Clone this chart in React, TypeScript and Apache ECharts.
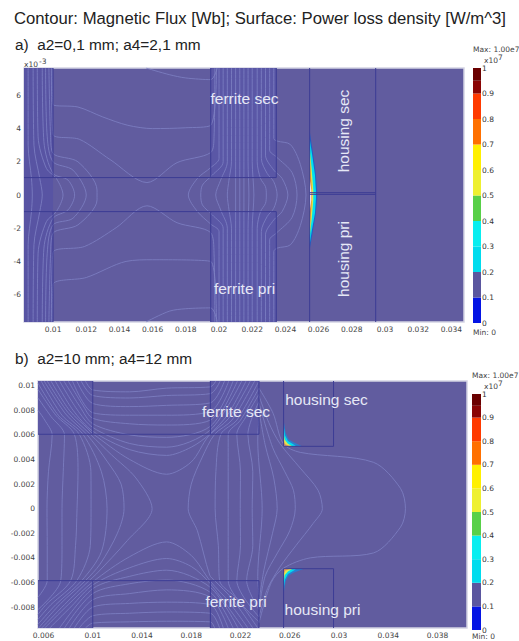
import React, { useEffect, useRef } from "react";
import * as echarts from "echarts";

type P = [number, number];
// Contour and region coordinates are in mm; x axis is in metres.
// Panel a's y axis is in units of 1e-3 m, panel b's y axis is in metres.
const ticksAX = [0.01, 0.012, 0.014, 0.016, 0.018, 0.02, 0.022, 0.024, 0.026, 0.028, 0.03, 0.032, 0.034];
const ticksAY = [-6, -4, -2, 0, 2, 4, 6];
const ticksBX = [0.006, 0.01, 0.014, 0.018, 0.022, 0.026, 0.03, 0.034, 0.038];
const ticksBY = [-0.008, -0.006, -0.004, -0.002, 0, 0.002, 0.004, 0.006, 0.008, 0.01];
const barTicks = [0, 0.1, 0.2, 0.3, 0.4, 0.5, 0.6, 0.7, 0.8, 0.9, 1];
const bandSizes = [0.1, 0.1, 0.1, 0.1, 0.1, 0.1, 0.1, 0.1, 0.1, 0.05, 0.05];
const bandColors = ["#0414e4", "#5a569f", "#00dcee", "#08eef0", "#58d048", "#eef030", "#fff000", "#ff7000", "#ff3a00", "#8a0404", "#6a0000"];

const contoursA: P[][] = [
  [[8.5,7.65],[8.5,3],[8.7,1],[8.75,0],[8.7,-1],[8.5,-3],[8.5,-7.65]],
  [[8.8,7.65],[8.85,3],[9.2,1],[9.35,0],[9.2,-1],[8.85,-3],[8.8,-7.65]],
  [[9.05,7.65],[9.1,3.5],[9.6,1.6],[10.2,1],[10.6,0],[10.2,-1],[9.6,-1.6],[9.1,-3.5],[9.05,-7.65]],
  [[9.35,7.65],[9.45,3.2],[10,1.3],[10.9,0.9],[11.3,0],[10.9,-0.9],[10,-1.4],[9.45,-3.2],[9.35,-7.65]],
  [[9.55,7.65],[9.65,3.5],[10,2],[11.2,1.5],[12,0],[11.2,-1.4],[10,-1.8],[9.65,-3.5],[9.55,-7.65]],
  [[9.75,7.65],[9.85,3.6],[10,2.5],[11.5,2],[12.65,0.3],[12.65,-0.3],[11.5,-1.8],[10,-2.3],[9.85,-3.6],[9.75,-7.65]],
  [[9.9,7.65],[10,3.65],[11.6,3.35],[13.43,2.14],[15.66,0.75],[17.47,1.95],[19.49,2.55],[19.7,3.5],[19.75,7.65]],
  [[9.95,7.65],[10,5.45],[11.5,5.3],[13,4.7],[14.5,4.2],[16,4],[18,4.05],[19.5,4.2],[19.85,7.65]],
  [[15.6,7.65],[17,7.25],[18,7.05],[19.5,6.95],[19.9,7.65]],
  [[9.9,-7.65],[10,-3.47],[11.9,-3.1],[13.8,-1.97],[15.66,-0.65],[17.47,-1.67],[19.49,-2.26],[19.7,-3.5],[19.75,-7.65]],
  [[9.95,-7.65],[10,-5.4],[12,-4.97],[14.4,-4],[16,-3.9],[19.5,-4],[19.85,-7.65]],
  [[15.6,-7.65],[17,-7],[18,-6.85],[19.5,-6.8],[19.9,-7.65]],
  [[20,7.65],[20,2.2],[19.5,1.65],[18.7,1],[18.15,0],[18.7,-1],[19.5,-1.75],[20,-2.2],[20,-7.65]],
  [[20.25,7.65],[20.25,2],[19.6,1.2],[19,0.6],[18.9,0],[19,-0.6],[19.6,-1.2],[20.25,-2],[20.25,-7.65]],
  [[20.5,7.65],[20.5,2],[20.1,0.9],[19.8,0],[20.1,-0.9],[20.5,-2],[20.5,-7.65]],
  [[20.75,7.65],[20.75,2],[20.6,0.9],[20.5,0],[20.6,-0.9],[20.75,-2],[20.75,-7.65]],
  [[21,7.65],[21,2],[21,0],[21,-2],[21,-7.65]],
  [[21.25,7.65],[21.25,2],[21.25,0],[21.25,-2],[21.25,-7.65]],
  [[21.5,7.65],[21.5,2],[21.5,0],[21.5,-2],[21.5,-7.65]],
  [[21.75,7.65],[21.75,2],[21.8,0],[21.75,-2],[21.75,-7.65]],
  [[22,7.65],[22,2],[22.1,0],[22,-2],[22,-7.65]],
  [[22.3,7.65],[22.3,2],[22.5,1],[22.8,0.5],[22.85,0],[22.8,-0.5],[22.5,-1],[22.3,-2],[22.3,-7.65]],
  [[22.55,7.65],[22.55,2.2],[22.9,1.3],[23.3,0.8],[23.5,0],[23.3,-0.8],[22.9,-1.3],[22.55,-2.2],[22.55,-7.65]],
  [[22.8,7.65],[22.8,2.4],[23.3,1.5],[23.8,1],[24.15,0],[23.8,-1],[23.3,-1.5],[22.8,-2.4],[22.8,-7.65]],
  [[23.05,7.65],[23.05,2.7],[23.45,2.3],[24.4,1.35],[24.7,0],[24.4,-1.35],[23.45,-2.3],[23.05,-2.7],[23.05,-7.65]],
  [[23.3,7.65],[23.3,3.4],[23.5,3.25],[24.3,3.04],[24.9,1.84],[25.24,0],[24.9,-1.84],[24.3,-3],[23.5,-3.2],[23.3,-3.4],[23.3,-7.65]],
];

const contoursB: P[][] = [
  [[9.4,10.38],[10,9.65],[13,9.5],[16,9.8],[19.55,9.9],[20,10.38]],
  [[9.05,10.38],[10,9.2],[13,9],[16,9.2],[19.55,9.35],[20.35,10.38]],
  [[8.7,10.38],[10,8.55],[13,8.3],[16,8.4],[19.55,8.6],[20.7,10.38]],
  [[8.35,10.38],[10,7.8],[13,7.6],[16,7.6],[19.55,7.9],[21.05,10.38]],
  [[8,10.38],[9.2,8.4],[10,7.35],[13,6.9],[16,6.8],[19.55,7.2],[21.4,10.38]],
  [[7.65,10.38],[8.95,8.3],[10,6.9],[13,6],[16,5.8],[19.55,6.7],[21.75,10.38]],
  [[7.3,10.38],[8.7,8.1],[10,6.6],[13,5.3],[16,5],[19.55,6.4],[22.1,10.38]],
  [[6.95,10.38],[8.4,8],[10,6.3],[13,4.8],[16,4.33],[18,5],[19.55,6.1],[21,7.7],[22.45,10.38]],
  [[6.6,10.38],[8.1,8],[9.6,6.5],[10,6.1],[13,4],[16,2.8],[18,3.8],[19.4,5.9],[21,7.3],[22.8,10.38]],
  [[6.1,-9.7],[8,-7.8],[10,-5.95],[13,-3.9],[16,-2.7],[18,-3.8],[19.55,-5.9],[21,-7.5],[22.6,-9.7]],
  [[6.5,-9.7],[8.3,-7.9],[10,-6.2],[13,-4.8],[16,-4.05],[18,-4.7],[19.55,-6.1],[22.2,-9.7]],
  [[7.3,-9.7],[10,-6.5],[13,-5.5],[16,-5],[19.55,-6.4],[21.8,-9.7]],
  [[7.7,-9.7],[10,-6.9],[13,-6.1],[16,-5.8],[19.55,-6.8],[21.4,-9.7]],
  [[8.1,-9.7],[10,-7.4],[13,-6.9],[16,-6.6],[19.55,-7.2],[21,-9.7]],
  [[8.5,-9.7],[10,-8],[13,-7.7],[16,-7.6],[19.55,-7.8],[20.6,-9.7]],
  [[8.9,-9.7],[10,-8.7],[13,-8.5],[16,-8.4],[19.55,-8.5],[20.3,-9.7]],
  [[9.4,-9.7],[10,-9.3],[13,-9.2],[16,-9.15],[19.55,-9.2],[19.9,-9.7]],
  [[5.55,8],[6.1,7.2],[6.7,6],[6.4,3],[6.28,0],[6.3,-3],[6.3,-5.85],[5.55,-7.2]],
  [[5.55,9],[6.6,7.5],[7.7,6],[7.6,3],[7.5,0],[7.5,-3],[7.4,-5.85],[5.55,-8.2]],
  [[5.55,9.7],[7,7.6],[8.5,6.05],[8.8,3],[8.72,0],[8.6,-3],[8.2,-5.85],[6.2,-7.8],[5.55,-8.6]],
  [[5.55,10.2],[7.2,7.6],[8.9,6.05],[9.85,3],[9.86,0],[9.8,-3],[8.7,-5.85],[6.6,-7.8],[5.55,-9]],
  [[5.8,10.38],[7.5,7.6],[9.2,6.05],[10.7,3],[11.16,0],[10.7,-3.5],[9.1,-5.85],[7,-7.8],[5.55,-9.4]],
  [[6.05,10.38],[7.8,7.7],[9.5,6.05],[11.2,3.8],[12.3,2],[12.54,0],[12,-2],[10.6,-4.5],[9.4,-5.85],[7.4,-7.7],[5.6,-9.7]],
  [[6.3,10.38],[8,7.8],[9.8,6.05],[11.5,4.4],[13.5,2.5],[14.82,0],[12.8,-2.6],[10.3,-5.3],[9.7,-5.85],[7.7,-7.8],[5.85,-9.7]],
  [[23.15,10.38],[21.3,7.2],[19.9,6.05],[18.9,4.2],[18,2],[17.75,0],[18.5,-1.8],[19.5,-5.4],[19.9,-5.85],[21.3,-7.3],[23,-9.7]],
  [[23.5,10.38],[21.7,7.2],[20.4,6.05],[20,3],[19.94,0],[20.2,-3],[20.3,-5.85],[21.7,-7.3],[23.4,-9.7]],
  [[23.5,9.8],[22,7.2],[21,6.05],[21,3],[21,0],[21,-3],[21,-5.85],[23.5,-9.2]],
  [[23.5,9.3],[22.4,7.4],[21.7,6.05],[22,3],[21.98,0],[22,-3],[21.7,-5.85],[23.5,-8.8]],
  [[23.5,8.7],[22.6,6.05],[23,3],[22.95,0],[23,-3],[22.5,-5.85],[23.5,-8.2]],
  [[23.5,7.4],[23.4,5.5],[23.76,0],[23.4,-5.5],[23.5,-7]],
  [[23.5,8],[24,5.2],[24.7,2.5],[24.98,0],[24.6,-2],[23.9,-5],[23.5,-7.6]],
  [[23.5,8.6],[24.6,5],[25.6,3],[26.3,1.5],[26.45,0],[26,-1.8],[25,-3.6],[24,-5.5],[23.5,-8.2]],
  [[23.5,9.2],[24.3,7],[25.2,5.3],[26.85,3.3],[28.3,1.5],[28.65,0],[27.9,-1.2],[26.5,-3],[25.2,-4.75],[24.2,-6.5],[23.5,-8.8]],
  [[23.5,9.8],[24.65,7.75],[25.47,5.3],[26.85,4.58],[32.8,3.77],[35,1.65],[35.4,0],[35,-1.5],[32.8,-3.6],[27.66,-4],[25.47,-4.85],[24.5,-6],[23.5,-9.3]],
];

const edgesA: P[][] = [
  [[10,7.65],[10,1.05]], [[10,-1],[10,-7.65]],
  [[19.5,7.65],[19.5,1.05]], [[19.5,-1],[19.5,-7.65]],
  [[23.45,7.65],[23.45,1.05]], [[23.45,-1],[23.45,-7.65]],
  [[8.25,1.05],[23.45,1.05]], [[8.25,-1],[23.45,-1]],
  [[25.46,7.65],[25.46,-7.65]], [[29.44,7.65],[29.44,-7.65]],
  [[25.46,0.14],[29.44,0.14]], [[25.46,0.04],[29.44,0.04]],
];
const edgesB: P[][] = [
  [[10,10.38],[10,6.05]], [[10,-5.85],[10,-9.7]],
  [[19.55,10.38],[19.55,6.05]], [[19.55,-5.85],[19.55,-9.7]],
  [[23.5,10.38],[23.5,6.05]], [[23.5,-5.85],[23.5,-9.7]],
  [[5.55,6.05],[23.5,6.05]], [[5.55,-5.85],[23.5,-5.85]],
  [[25.5,10.38],[25.5,5.07],[29.56,5.07],[29.56,10.38]],
  [[25.5,-9.7],[25.5,-4.88],[29.56,-4.88],[29.56,-9.7]],
];

const ferriteA = [
  { color: "#5854a3", pts: [[8.25,7.65],[10,7.65],[10,-7.65],[8.25,-7.65]] as P[] },
  { color: "#5a57a6", pts: [[19.5,7.65],[23.45,7.65],[23.45,1.05],[19.5,1.05]] as P[] },
  { color: "#5a57a6", pts: [[19.5,-1],[23.45,-1],[23.45,-7.65],[19.5,-7.65]] as P[] },
];
const ferriteB = [
  { color: "#5d59a4", pts: [[5.55,10.38],[10,10.38],[10,6.05],[5.55,6.05]] as P[] },
  { color: "#5d59a4", pts: [[5.55,-5.85],[10,-5.85],[10,-9.7],[5.55,-9.7]] as P[] },
  { color: "#5d59a4", pts: [[19.55,10.38],[23.5,10.38],[23.5,6.05],[19.55,6.05]] as P[] },
  { color: "#5d59a4", pts: [[19.55,-5.85],[23.5,-5.85],[23.5,-9.7],[19.55,-9.7]] as P[] },
];
const hotA = [
  { color: "#2060c8", pts: [[25.46,3.85],[25.62,2.8],[25.82,1.4],[25.92,0.2],[25.92,-0.2],[25.82,-1.2],[25.62,-2.4],[25.46,-3.3]] as P[] },
  { color: "#00e0f0", pts: [[25.46,3.4],[25.6,2.5],[25.78,1.2],[25.84,0.2],[25.84,-0.2],[25.78,-1.1],[25.6,-2.1],[25.46,-3]] as P[] },
  { color: "#d8e850", pts: [[25.46,2.8],[25.58,1.6],[25.68,0.3],[25.68,-0.3],[25.58,-1.5],[25.46,-2.5]] as P[] },
  { color: "#f09030", pts: [[25.46,2.3],[25.55,1],[25.6,0.2],[25.6,-0.2],[25.55,-1],[25.46,-2]] as P[] },
  { color: "#ffffff", pts: [[25.46,1],[25.56,0.3],[25.56,-0.3],[25.46,-1]] as P[] },
];
const hotB = [
  { color: "#2880d0", pts: [[25.5,7.2],[25.66,6.2],[25.9,5.65],[26.3,5.4],[27,5.08],[25.5,5.07]] as P[] },
  { color: "#00e0f0", pts: [[25.5,6.8],[25.62,5.95],[25.85,5.5],[26.5,5.1],[25.5,5.07]] as P[] },
  { color: "#e0e850", pts: [[25.5,6.1],[25.6,5.6],[25.85,5.28],[26.2,5.08],[25.5,5.07]] as P[] },
  { color: "#f09a50", pts: [[25.5,5.5],[25.65,5.25],[25.95,5.08],[25.5,5.07]] as P[] },
  { color: "#2880d0", pts: [[25.5,-6.9],[25.66,-5.95],[25.9,-5.45],[26.3,-5.2],[27.1,-4.9],[25.5,-4.88]] as P[] },
  { color: "#00e0f0", pts: [[25.5,-6.5],[25.62,-5.75],[25.85,-5.3],[26.5,-4.92],[25.5,-4.88]] as P[] },
  { color: "#e0e850", pts: [[25.5,-5.9],[25.6,-5.4],[25.85,-5.1],[26.2,-4.9],[25.5,-4.88]] as P[] },
  { color: "#f09a50", pts: [[25.5,-5.3],[25.65,-5.05],[25.95,-4.9],[25.5,-4.88]] as P[] },
];

const titleText = "Contour: Magnetic Flux [Wb]; Surface: Power loss density [W/m^3]";
const panelATitle = "a)  a2=0,1 mm; a4=2,1 mm";
const panelBTitle = "b)  a2=10 mm; a4=12 mm";

const AX = "DejaVu Sans";
const SANS = "Liberation Sans";

function polys(layers: { color: string; pts: P[] }[], idx: number, yk: number) {
  return {
    type: "custom",
    xAxisIndex: idx,
    yAxisIndex: idx,
    silent: true,
    data: layers.map((l) => [l.pts[0][0] / 1000, l.pts[0][1] * yk]),
    renderItem: (params: any, api: any) => {
      const l = layers[params.dataIndex];
      return {
        type: "polygon",
        shape: { points: l.pts.map((p) => api.coord([p[0] / 1000, p[1] * yk])) },
        style: { fill: l.color },
      };
    },
  };
}
function lines(list: P[][], idx: number, yk: number, color: string, width: number, smooth: number) {
  return list.map((c) => ({
    type: "line",
    xAxisIndex: idx,
    yAxisIndex: idx,
    silent: true,
    showSymbol: false,
    smooth,
    lineStyle: { color, width },
    data: c.map((p) => [p[0] / 1000, p[1] * yk]),
  }));
}
function valueAxis(idx: number, min: number, max: number, ticks: number[], fmt?: (v: number) => string) {
  return {
    type: "value",
    gridIndex: idx,
    min,
    max,
    axisLine: { show: false },
    axisTick: { show: false },
    splitLine: { show: false },
    axisLabel: {
      customValues: ticks,
      color: "#444",
      fontFamily: AX,
      fontSize: 7.5,
      margin: 3,
      showMinLabel: true,
      showMaxLabel: true,
      hideOverlap: false,
      formatter: fmt || ((v: number) => String(v)),
    },
  };
}
function barAxis(idx: number) {
  return {
    type: "value",
    gridIndex: idx,
    position: "right",
    min: 0,
    max: 1,
    axisLine: { show: false },
    axisTick: { show: false },
    splitLine: { show: false },
    axisLabel: {
      customValues: barTicks,
      color: "#333",
      fontFamily: AX,
      fontSize: 7.5,
      margin: 1,
      hideOverlap: false,
      formatter: (v: number) => String(v),
    },
  };
}
function colorBar(idx: number, stack: string) {
  return bandSizes.map((s, i) => ({
    type: "bar",
    xAxisIndex: idx,
    yAxisIndex: idx,
    stack,
    silent: true,
    barWidth: "100%",
    itemStyle: { color: bandColors[i] },
    data: [s],
  }));
}
function label(text: string, x: number, y: number, rotation = 0) {
  return {
    type: "text",
    x,
    y,
    rotation,
    z: 50,
    silent: true,
    style: { text, fill: "#e6e8f6", font: `15.5px ${SANS}`, align: "center", verticalAlign: "middle" },
  };
}
function small(text: string, x: number, y: number) {
  return {
    type: "text",
    x,
    y,
    z: 50,
    silent: true,
    style: { text, fill: "#444", font: `7.5px ${AX}`, align: "left", verticalAlign: "middle" },
  };
}
function head(text: string, x: number, y: number, size: number) {
  return {
    type: "text",
    x,
    y,
    silent: true,
    style: { text, fill: "#222", font: `${size}px ${SANS}`, align: "left", verticalAlign: "middle" },
  };
}
const gridStyle = { show: true, backgroundColor: "#615c9f", borderColor: "#d4d4e4", borderWidth: 1.5 };

export default function App() {
  const ref = useRef<HTMLDivElement>(null);
  useEffect(() => {
    document.body.style.margin = "0";
    const chart = echarts.init(ref.current!, undefined, { renderer: "svg" });
    chart.setOption({
      animation: false,
      backgroundColor: "#ffffff",
      grid: [
        { left: 24, top: 68, width: 440, height: 254, ...gridStyle },
        { left: 38, top: 381, width: 429, height: 247, ...gridStyle },
        { left: 473, top: 68, width: 8, height: 255 },
        { left: 472, top: 394, width: 9, height: 236 },
      ],
      xAxis: [
        valueAxis(0, 0.00825, 0.03476, ticksAX),
        valueAxis(1, 0.00555, 0.0404, ticksBX),
        { type: "category", gridIndex: 2, data: ["bar"], show: false },
        { type: "category", gridIndex: 3, data: ["bar"], show: false },
      ],
      yAxis: [
        valueAxis(0, -7.65, 7.65, ticksAY),
        valueAxis(1, -0.0097, 0.01038, ticksBY),
        barAxis(2),
        barAxis(3),
      ],
      series: [
        polys(ferriteA, 0, 1),
        polys(ferriteB, 1, 0.001),
        ...lines(contoursA, 0, 1, "#7f82c4", 0.8, 0.3),
        ...lines(contoursB, 1, 0.001, "#7f82c4", 0.8, 0.3),
        polys(hotA, 0, 1),
        polys(hotB, 1, 0.001),
        ...lines(edgesA, 0, 1, "#3c3c94", 1, 0),
        ...lines(edgesB, 1, 0.001, "#3c3c94", 1, 0),
        ...colorBar(2, "a"),
        ...colorBar(3, "b"),
      ],
      graphic: [
        head(titleText, 14, 18, 16.7),
        head(panelATitle, 15, 44, 15.4),
        head(panelBTitle, 15, 358, 15.4),
        small("x10", 24, 64),
        small("-3", 39, 61),
        small("Max: 1.00e7", 473, 49),
        small("Min: 0", 473, 332),
        small("x10", 484, 60),
        small("7", 498, 57),
        small("Max: 1.00e7", 472, 375),
        small("Min: 0", 472, 636),
        small("x10", 484, 386),
        small("7", 498, 383),
        label("ferrite sec", 244.5, 98),
        label("ferrite pri", 244.5, 288),
        label("housing sec", 343, 131, Math.PI / 2),
        label("housing pri", 343, 259, Math.PI / 2),
        label("ferrite sec", 236, 411),
        label("ferrite pri", 236, 601),
        label("housing sec", 326.5, 399),
        label("housing pri", 322.5, 609),
      ],
    });
    return () => chart.dispose();
  }, []);
  return <div ref={ref} style={{ position: "absolute", left: 0, top: 0, width: 519, height: 641 }} />;
}
